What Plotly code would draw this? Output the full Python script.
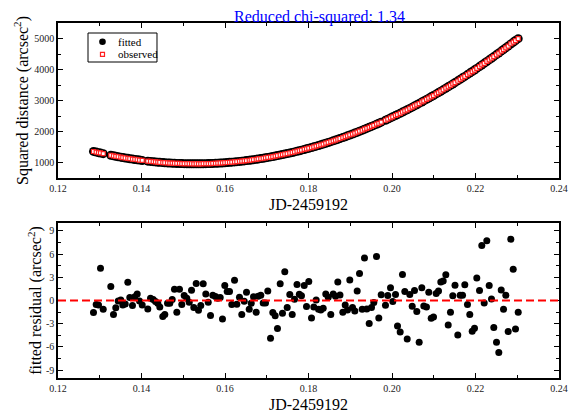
import plotly.graph_objects as go
from plotly.subplots import make_subplots

# ----- data -----
jd = [0.1285, 0.12915, 0.1297, 0.13018, 0.13083, 0.13265, 0.13329, 0.13384, 0.13442, 0.13504,
      0.13552, 0.1361, 0.13672, 0.1372, 0.13784, 0.1384, 0.13897, 0.13952, 0.14017, 0.14151,
      0.14216, 0.1428, 0.14335, 0.1439, 0.14438, 0.1451, 0.14558, 0.14623, 0.14678, 0.14735,
      0.1479, 0.14846, 0.1491, 0.14965, 0.15023, 0.15085, 0.15143, 0.15198, 0.15253, 0.1531,
      0.15365, 0.1542, 0.15478, 0.1554, 0.15598, 0.15653, 0.15708, 0.15772, 0.15828, 0.15885,
      0.1594, 0.15995, 0.16053, 0.16108, 0.16163, 0.16228, 0.16283, 0.16347, 0.16402, 0.1646,
      0.16515, 0.1658, 0.16628, 0.16683, 0.16747, 0.16795, 0.16857, 0.16915, 0.1697, 0.17025,
      0.1709, 0.17145, 0.17202, 0.17257, 0.17322, 0.17377, 0.17432, 0.1749, 0.17552, 0.1761,
      0.17665, 0.17725, 0.1778, 0.17832, 0.17897, 0.17952, 0.18007, 0.18072, 0.18127, 0.18184,
      0.1824, 0.18295, 0.18352, 0.18414, 0.18472, 0.18534, 0.18592, 0.18647, 0.18702, 0.18754,
      0.18822, 0.18879, 0.18934, 0.18989, 0.19054, 0.19109, 0.19166, 0.19222, 0.19286, 0.19341,
      0.19396, 0.19454, 0.19509, 0.19564, 0.19629, 0.19684, 0.19741, 0.19844, 0.19899, 0.19964,
      0.20019, 0.20084, 0.20132, 0.20196, 0.20251, 0.20307, 0.20364, 0.20426, 0.20484, 0.20539,
      0.20594, 0.20651, 0.20714, 0.20762, 0.20826, 0.20881, 0.20939, 0.20994, 0.21059, 0.21114,
      0.21169, 0.21226, 0.21289, 0.21346, 0.21401, 0.21456, 0.21509, 0.21576, 0.21633, 0.21689,
      0.21744, 0.21808, 0.21863, 0.21921, 0.21976, 0.22031, 0.22096, 0.22151, 0.22208, 0.22271,
      0.22328, 0.22383, 0.22438, 0.22503, 0.22558, 0.22616, 0.22671, 0.22726, 0.22783, 0.22846,
      0.22903, 0.22958, 0.23023]

fitted = [1357, 1336, 1318, 1303, 1284, 1232, 1215, 1201, 1186, 1171,
          1160, 1146, 1133, 1122, 1109, 1098, 1087, 1077, 1066, 1044,
          1034, 1026, 1018, 1011, 1006, 998, 993, 987, 982, 978,
          974, 971, 967, 965, 962, 961, 959, 958, 958, 958,
          958, 959, 961, 963, 965, 967, 970, 974, 978, 983,
          987, 992, 998, 1004, 1011, 1019, 1026, 1035, 1043, 1052,
          1061, 1072, 1081, 1091, 1103, 1113, 1126, 1138, 1151, 1164,
          1179, 1193, 1207, 1222, 1239, 1255, 1271, 1288, 1306, 1324,
          1342, 1362, 1380, 1398, 1420, 1440, 1460, 1484, 1505, 1527,
          1549, 1572, 1595, 1621, 1646, 1673, 1698, 1723, 1748, 1773,
          1805, 1832, 1859, 1887, 1919, 1948, 1977, 2007, 2041, 2071,
          2102, 2134, 2165, 2197, 2235, 2267, 2301, 2364, 2398, 2439,
          2474, 2516, 2547, 2589, 2626, 2664, 2703, 2745, 2786, 2825,
          2864, 2905, 2951, 2987, 3034, 3076, 3120, 3162, 3212, 3255,
          3299, 3344, 3395, 3442, 3487, 3533, 3577, 3634, 3682, 3731,
          3778, 3835, 3883, 3935, 3985, 4034, 4094, 4145, 4198, 4257,
          4311, 4364, 4416, 4480, 4533, 4591, 4645, 4700, 4758, 4822,
          4880, 4937, 4995]

residual = [-1.55, -0.52, -0.57, 4.17, -1.12, 1.81, -1.81, -0.95, -0.05, 0.08,
            -0.57, -0.45, 2.35, 0.39, -0.65, 0.47, 0.85, -0.05, -0.57, -1.08,
            0.30, 0.13, -0.13, -0.35, -0.83, -2.07, -1.81, -0.35, -0.35, 0.13,
            1.46, -1.51, 1.46, -0.52, 0.65, 0.30, -0.22, 1.33, -0.90, 2.20,
            -1.25, -0.65, 2.15, 0.85, -0.22, -1.94, 0.68, 0.52, 0.30, 0.39,
            -2.38, 1.94, 1.16, 1.16, -0.52, 2.62, -0.48, 0.43, -1.81, -0.09,
            1.07, -1.12, -0.35, 0.47, -1.51, 0.56, 0.68, -0.31, -0.31, 1.24,
            -4.87, -1.55, -1.98, -3.62, 2.15, -1.64, 3.70, -0.90, 0.78, -1.79,
            0.17, 2.07, 0.82, 0.60, 1.94, -0.78, 2.45, -2.25, -0.83, 0.08,
            -1.12, -1.21, -1.00, 0.85, 0.43, -1.81, 0.85, 0.56, 2.40, 0.70,
            -1.51, -0.57, -1.21, 2.66, -0.90, -1.34, 1.24, 3.49, -1.12, 5.47,
            -1.09, -2.97, -0.90, -0.26, 5.68, -2.25, 0.73, -0.61, 0.65, 1.63,
            -0.13, 0.78, -3.28, -4.06, 3.36, 1.16, -4.96, 0.78, -0.74, 1.29,
            -1.42, -5.39, 1.63, -0.70, -0.83, 1.07, -2.29, -2.12, 0.90, 1.24,
            2.40, 2.53, 3.31, -3.15, -1.51, 0.60, 1.96, -4.44, 0.68, 0.68,
            2.02, -0.52, -1.81, -3.97, -3.58, 2.92, 1.29, 7.10, -0.31, 7.70,
            1.94, 0.21, -3.49, -5.39, -6.72, 1.37, -1.12, 0.68, -4.01, 7.92,
            4.04, -3.67, -1.51]

# observed = fitted + residual
observed = [f + r for f, r in zip(fitted, residual)]

resid_ticks = [-9, -6, -3, 0, 3, 6, 9]
resid_ticktext = ["-9", "-6", "-3", "0", "3", "6", "9"]

FONT = "Liberation Serif"

fig = make_subplots(rows=2, cols=1, vertical_spacing=0.1268)

fig.add_scatter(x=jd, y=fitted, mode="markers", name="fitted", showlegend=False,
                marker=dict(color="black", size=9), row=1, col=1)
fig.add_scatter(x=jd, y=observed, mode="markers", name="observed", showlegend=False,
                marker=dict(symbol="square", color="white", size=4,
                            line=dict(color="#ff2020", width=1.2)), row=1, col=1)
fig.add_scatter(x=jd, y=residual, mode="markers", showlegend=False,
                marker=dict(color="black", size=7), row=2, col=1)

# zero line in residual panel
fig.add_shape(type="line", xref="x2 domain", yref="y2", x0=0, x1=1, y0=0, y1=0,
              line=dict(color="#ff0000", width=2, dash="8px,4px"))

# small boxed legend (plotly's own legend rows are too tall for this one)
fig.add_shape(type="rect", xref="paper", yref="paper", x0=0.0599, x1=0.1976, y0=0.8901, y1=0.9718,
              line=dict(color="black", width=1), fillcolor="white")
fig.add_shape(type="circle", xref="paper", yref="paper", x0=0.0822, x1=0.0954, y0=0.938, y1=0.9566,
              line=dict(color="black", width=0), fillcolor="black")
fig.add_shape(type="rect", xref="paper", yref="paper", x0=0.0848, x1=0.0928, y0=0.9062, y1=0.9175,
              line=dict(color="#ff2020", width=1.2), fillcolor="white")
for label, ly in [("fitted", 0.9473), ("observed", 0.9118)]:
    fig.add_annotation(text=label, xref="paper", yref="paper", x=0.1158, y=ly,
                       xanchor="left", yanchor="middle", showarrow=False,
                       font=dict(family=FONT, size=11, color="black"))

axis_style = dict(showline=True, linecolor="black", linewidth=1.5, mirror="allticks",
                  ticks="inside", ticklen=5, tickwidth=1, tickcolor="black",
                  showgrid=False, zeroline=False, automargin=False,
                  tickfont=dict(family=FONT, size=10, color="#222"))

for r in (1, 2):
    fig.update_xaxes(range=[0.12, 0.24], dtick=0.02, tickformat=".2f",
                     minor=dict(dtick=0.01, ticks="inside", ticklen=3, tickcolor="black"),
                     title=dict(text="JD-2459192", font=dict(family=FONT, size=16, color="black"),
                                standoff=6),
                     row=r, col=1, **axis_style)

fig.update_yaxes(range=[500, 5500], dtick=1000,
                 minor=dict(dtick=500, ticks="inside", ticklen=3, tickcolor="black"),
                 title=dict(text="Squared distance (arcsec<sup>2</sup>)",
                            font=dict(family=FONT, size=16, color="black"), standoff=2),
                 row=1, col=1, **axis_style)
fig.update_yaxes(range=[-10, 10], tickvals=resid_ticks, ticktext=resid_ticktext,
                 minor=dict(tickvals=[-7.5, -4.5, -1.5, 1.5, 4.5, 7.5],
                            ticks="inside", ticklen=3, tickcolor="black"),
                 title=dict(text="fitted residual (arcsec<sup>2</sup>)",
                            font=dict(family=FONT, size=16, color="black"), standoff=0),
                 row=2, col=1, **axis_style)

fig.add_annotation(text="Reduced chi-squared: 1.34", xref="paper", yref="paper",
                   x=0.521, y=1.0169, xanchor="center", yanchor="middle", showarrow=False,
                   font=dict(family=FONT, size=16, color="blue"))

# the page body adds an 8px margin, so the figure is 8px smaller and shifted
fig.update_layout(
    template="none",
    width=577, height=412,
    margin=dict(l=50, r=26, t=15, b=42),
    paper_bgcolor="white", plot_bgcolor="white",
    font=dict(family=FONT, color="black"),
    showlegend=False,
)

fig.write_html("out.html")
